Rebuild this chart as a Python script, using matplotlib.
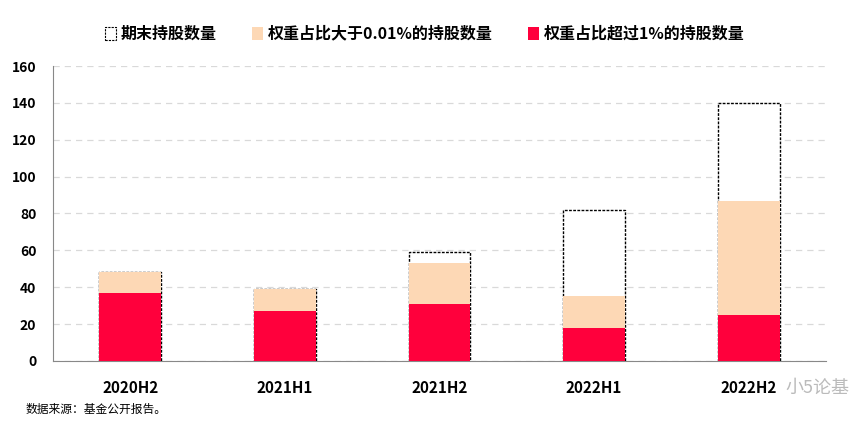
import numpy as np
import matplotlib
matplotlib.use('Agg')
import matplotlib.pyplot as plt
from matplotlib.patches import Patch

plt.rcParams['font.family'] = ['Noto Sans CJK SC', 'DejaVu Sans']

periods = ['2020H2', '2021H1', '2021H2', '2022H1', '2022H2']
total_holdings = [48, 39, 59, 82, 140]       # 期末持股数量
over_001 = [48, 39, 53, 35, 87]              # 权重占比大于0.01%
over_1 = [37, 27, 31, 18, 25]                # 权重占比超过1%

labels = ['期末持股数量', '权重占比大于0.01%的持股数量', '权重占比超过1%的持股数量']

fig = plt.figure(figsize=(8.49, 4.32), dpi=100)
ax = fig.add_axes([0.0624, 0.1644, 0.9106, 0.6828])

x = np.arange(len(periods))
w = 0.4
ax.bar(x, total_holdings, w, facecolor='white', edgecolor='black',
       linestyle=(0, (2, 1)), linewidth=1.0, zorder=2)
ax.bar(x, over_001, w, color='#fdd8b5', zorder=3)
ax.bar(x, over_1, w, color='#ff003c', zorder=4)

ax.set_xlim(-0.5, 4.5)
ax.set_ylim(0, 160)
ax.set_yticks(range(0, 161, 20))
ax.yaxis.grid(True, color='#d9d9d9', linestyle=(0, (5, 4)), linewidth=0.9)
ax.set_axisbelow(True)
for s in ['top', 'right']:
    ax.spines[s].set_visible(False)
for s in ['left', 'bottom']:
    ax.spines[s].set_color('#888888')
ax.tick_params(axis='both', length=0)
ax.tick_params(axis='y', pad=12)
ax.tick_params(axis='x', pad=14)
ax.set_xticks(x)
ax.set_xticklabels(periods, fontsize=11, fontweight='bold')
for t in ax.get_yticklabels():
    t.set_fontsize(10)
    t.set_fontweight('bold')

handles = [Patch(facecolor='white', edgecolor='black', linestyle=(0, (2, 1)), linewidth=0.8),
           Patch(facecolor='#fdd8b5'),
           Patch(facecolor='#ff003c')]
fig.legend(handles, labels, loc='center', bbox_to_anchor=(0.5, 0.922), ncol=3,
           frameon=False, prop={'size': 11.5, 'weight': 'bold'},
           handlelength=0.7, handleheight=0.9, handletextpad=0.3, columnspacing=2.2)

fig.text(0.03, 0.043, '数据来源：基金公开报告。', fontsize=8.5)
fig.text(0.925, 0.09, '小5论基', fontsize=13, color='#aaaaaa', alpha=0.8)

fig.savefig('out.png', dpi=100)
